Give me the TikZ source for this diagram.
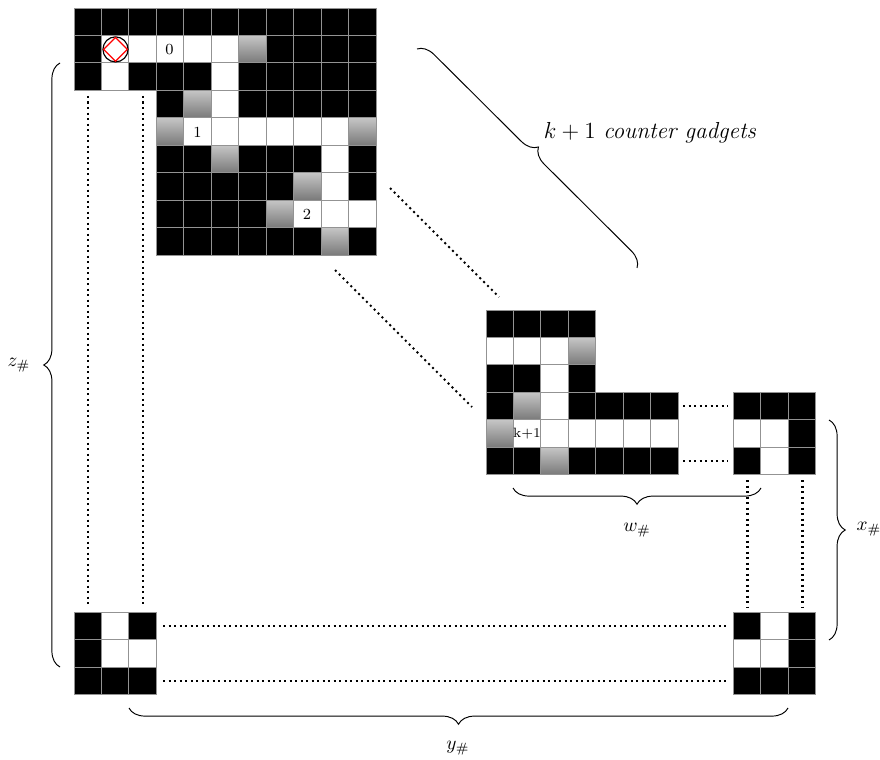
\documentclass[tikz,border=0pt]{standalone}
\usetikzlibrary{decorations.pathreplacing}
\newcommand{\gridrow}[4]{% origin x, origin y + row, start column, list
  \foreach \cc [count=\ii from #3] in {#4} {
    \draw[\cc] ({#1+\ii*27.45},{#2}) rectangle ({#1+(\ii+1)*27.45},{#2+27.45});
  }}
\tikzset{
  x=0.518pt,y=-0.518pt,
  ck/.style={draw=gray!85,line width=0.45pt,fill=black},
  cw/.style={draw=gray!85,line width=0.45pt,fill=white},
  cg/.style={draw=gray!85,line width=0.45pt,top color=gray!45,bottom color=gray!95!black},
  dotline/.style={draw=black,line width=1.05pt,dash pattern=on 1.05pt off 1.8pt},
  bracemark/.style={draw=black,line width=0.5pt,decorate,decoration={brace,amplitude=8.4pt}},
  celltext/.style={inner sep=0pt,font=\footnotesize},
  lab/.style={inner sep=0pt,font=\normalsize},
  biglab/.style={inner sep=0pt,font=\large},
}
\begin{document}
\begin{tikzpicture}
\useasboundingbox (0,0) rectangle (880,760);
% top gadget
\gridrow{74}{8}{0}{ck,ck,ck,ck,ck,ck,ck,ck,ck,ck,ck}
\gridrow{74}{35.45}{0}{ck,cw,cw,cw,cw,cw,cg,ck,ck,ck,ck}
\gridrow{74}{62.9}{0}{ck,cw,ck,ck,ck,cw,ck,ck,ck,ck,ck}
\gridrow{74}{90.35}{3}{ck,cg,cw,ck,ck,ck,ck,ck}
\gridrow{74}{117.8}{3}{cg,cw,cw,cw,cw,cw,cw,cg}
\gridrow{74}{145.25}{3}{ck,ck,cg,ck,ck,ck,cw,ck}
\gridrow{74}{172.7}{3}{ck,ck,ck,ck,ck,cg,cw,ck}
\gridrow{74}{200.15}{3}{ck,ck,ck,ck,cg,cw,cw,cw}
\gridrow{74}{227.6}{3}{ck,ck,ck,ck,ck,ck,cg,ck}
% k+1 gadget
\gridrow{486}{310}{0}{ck,ck,ck,ck}
\gridrow{486}{337.45}{0}{cw,cw,cw,cg}
\gridrow{486}{364.9}{0}{ck,ck,cw,ck}
\gridrow{486}{392.35}{0}{ck,cg,cw,ck,ck,ck,ck}
\gridrow{486}{419.8}{0}{cg,cw,cw,cw,cw,cw,cw}
\gridrow{486}{447.25}{0}{ck,ck,cg,ck,ck,ck,ck}
% right gadget
\gridrow{733.3}{392.35}{0}{ck,ck,ck}
\gridrow{733.3}{419.8}{0}{cw,cw,ck}
\gridrow{733.3}{447.25}{0}{ck,cw,ck}
% bottom left
\gridrow{74}{612.3}{0}{ck,cw,ck}
\gridrow{74}{639.75}{0}{ck,cw,cw}
\gridrow{74}{667.2}{0}{ck,ck,ck}
% bottom right
\gridrow{733.3}{612.3}{0}{ck,cw,ck}
\gridrow{733.3}{639.75}{0}{cw,cw,ck}
\gridrow{733.3}{667.2}{0}{ck,ck,ck}
% start marker
\node[draw=black,line width=0.6pt,circle,minimum size=13pt,inner sep=0pt] (start) at (115.5,49.4) {};
\node[draw=red,line width=0.6pt,rectangle,minimum size=8.7pt,inner sep=0pt,rotate=45] (startd) at (115.5,49.4) {};
% cell labels
\node[celltext] (n0) at (169.5,50) {0};
\node[celltext] (n1) at (197.5,132.5) {1};
\node[celltext] (n2) at (307,214.5) {2};
\node[inner sep=0pt,font=\scriptsize] (nk) at (527,433.5) {k+1};
% connector ends
\coordinate (v1a) at (88,96);   \coordinate (v1b) at (88,607);
\coordinate (v2a) at (143,96);  \coordinate (v2b) at (143,607);
\coordinate (h1a) at (163,625.7); \coordinate (h1b) at (728,625.7);
\coordinate (h2a) at (163,680.7); \coordinate (h2b) at (728,680.7);
\coordinate (m1a) at (683,406); \coordinate (m1b) at (728,406);
\coordinate (m2a) at (683,461); \coordinate (m2b) at (728,461);
\coordinate (r1a) at (747.5,480); \coordinate (r1b) at (747.5,607);
\coordinate (r2a) at (802.5,480); \coordinate (r2b) at (802.5,607);
\coordinate (d1a) at (390,188); \coordinate (d1b) at (499,297);
\coordinate (d2a) at (335,270); \coordinate (d2b) at (472,407);
\foreach \pa/\pb in {v1a/v1b,v2a/v2b,h1a/h1b,h2a/h2b,m1a/m1b,m2a/m2b,r1a/r1b,r2a/r2b,d1a/d1b,d2a/d2b}
  \draw[dotline] (\pa) -- (\pb);
% braces
\coordinate (bza) at (60,667);  \coordinate (bzb) at (60,63);
\coordinate (bwa) at (761,488); \coordinate (bwb) at (513,488);
\coordinate (bxa) at (829,420); \coordinate (bxb) at (829,640);
\coordinate (bya) at (788,708); \coordinate (byb) at (129,708);
\coordinate (bda) at (417,49);  \coordinate (bdb) at (637,268);
\foreach \pa/\pb in {bza/bzb,bwa/bwb,bxa/bxb,bya/byb,bda/bdb}
  \draw[bracemark] (\pa) -- (\pb);
% labels
\node[lab] (lz) at (19,365) {$z_{\#}$};
\node[lab] (lw) at (637,530) {$w_{\#}$};
\node[lab] (lx) at (869,529) {$x_{\#}$};
\node[lab] (ly) at (458,748) {$y_{\#}$};
\node[biglab] (lk) at (650,133) {$k+1$ \textit{counter gadgets}};
\end{tikzpicture}
\end{document}
